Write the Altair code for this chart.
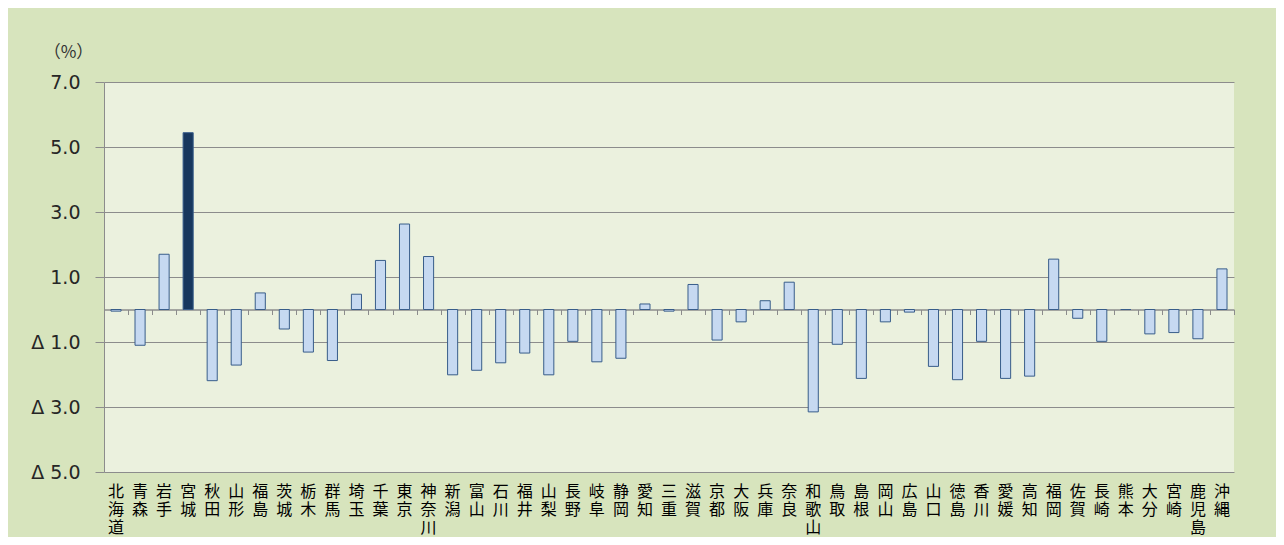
import altair as alt
import pandas as pd

prefectures = ["北海道", "青森", "岩手", "宮城", "秋田", "山形", "福島", "茨城", "栃木", "群馬",
               "埼玉", "千葉", "東京", "神奈川", "新潟", "富山", "石川", "福井", "山梨", "長野",
               "岐阜", "静岡", "愛知", "三重", "滋賀", "京都", "大阪", "兵庫", "奈良", "和歌山",
               "鳥取", "島根", "岡山", "広島", "山口", "徳島", "香川", "愛媛", "高知", "福岡",
               "佐賀", "長崎", "熊本", "大分", "宮崎", "鹿児島", "沖縄"]
values = [-0.05, -1.10, 1.70, 5.44, -2.19, -1.71, 0.51, -0.60, -1.31, -1.57,
          0.47, 1.51, 2.63, 1.63, -2.01, -1.87, -1.64, -1.34, -2.01, -0.98,
          -1.61, -1.50, 0.17, -0.05, 0.77, -0.94, -0.38, 0.27, 0.84, -3.15,
          -1.07, -2.12, -0.38, -0.08, -1.75, -2.16, -0.98, -2.12, -2.05, 1.55,
          -0.27, -0.98, 0.00, -0.75, -0.71, -0.90, 1.25]
highlight = ["宮城"]
y_ticks = [-5, -3, -1, 1, 3, 5, 7]

df = pd.DataFrame({
    "pref": prefectures,
    "value": values,
    "group": ["hl" if p in highlight else "base" for p in prefectures],
})

GRAY = "#8c8c8c"

y_enc = alt.Y(
    "value:Q",
    scale=alt.Scale(domain=[-5, 7], nice=False, zero=False),
    axis=alt.Axis(
        values=y_ticks,
        grid=True, gridColor=GRAY, gridWidth=1,
        domain=True, domainColor=GRAY, domainWidth=1,
        ticks=True, tickColor=GRAY, tickSize=9,
        labelPadding=15,
        labelExpr="datum.value < 0 ? 'Δ ' + format(-datum.value, '.1f') : format(datum.value, '.1f')",
        labelFont="DejaVu Sans", labelFontSize=19, labelColor="#262626",
        title="（%）", titleAngle=0, titleX=-36, titleY=-30,
        titleAlign="center", titleBaseline="middle",
        titleFont="Noto Sans CJK JP", titleFontSize=17, titleFontWeight="normal",
        titleColor="#333333",
    ),
)

bars = alt.Chart(df).mark_bar(stroke="#385d8a", strokeWidth=1).encode(
    x=alt.X(
        "pref:N", sort=prefectures,
        scale=alt.Scale(paddingInner=0.58, paddingOuter=0.29),
        axis=alt.Axis(
            orient="bottom", title=None, domain=False, ticks=False, grid=False,
            labelAngle=0, labelExpr="split(datum.label, '')",
            labelFont="Noto Sans CJK JP", labelFontSize=16, labelLineHeight=18,
            labelBaseline="top", labelAlign="center", labelPadding=11,
            labelColor="#000000", labelOverlap=False, labelBound=False,
        ),
    ),
    y=y_enc,
    color=alt.Color("group:N", scale=alt.Scale(domain=["base", "hl"], range=["#c6d9f1", "#17375e"]), legend=None),
)

zero_axis = alt.Chart(df).mark_point(opacity=0).encode(
    x=alt.X(
        "pref:N", sort=prefectures,
        scale=alt.Scale(paddingInner=0, paddingOuter=0),
        axis=alt.Axis(
            orient="bottom", offset=-162.5, title=None, labels=False, grid=False,
            domain=True, domainColor=GRAY, domainWidth=1.5,
            ticks=True, tickColor=GRAY, tickSize=5, tickBand="extent",
        ),
    ),
    y=alt.datum(0),
)

chart = alt.layer(bars, zero_axis).resolve_scale(x="independent").properties(
    width=1130, height=390,
    padding={"left": 96, "top": 74, "right": 42, "bottom": 65},
    autosize=alt.AutoSizeParams(type="none"),
    background="#d7e4bd",
).configure_view(fill="#ebf1de", strokeWidth=0)

chart.save("out.html", embed_options={"renderer": "svg", "actions": False})
